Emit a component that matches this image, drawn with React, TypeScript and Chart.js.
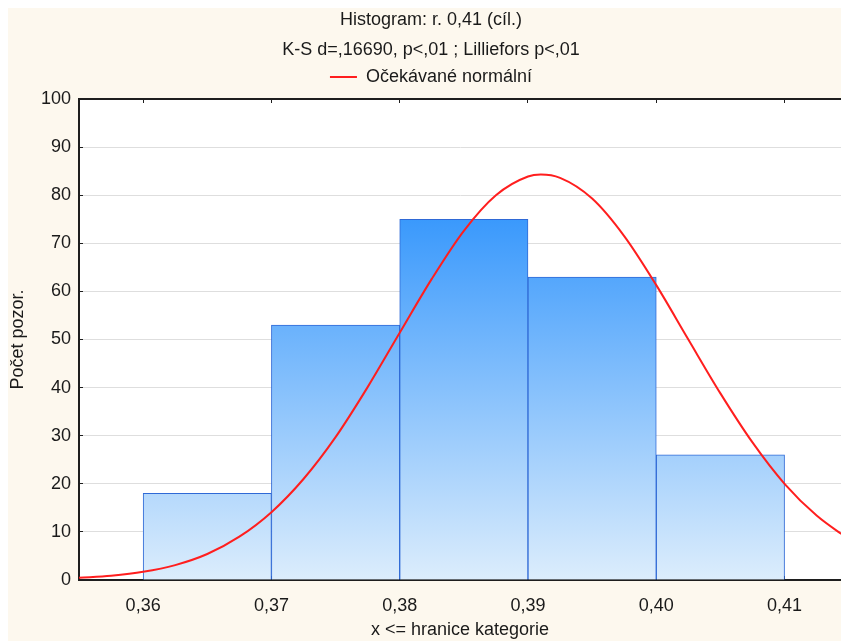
import React, { useEffect, useRef } from "react";
import { Chart, registerables } from "chart.js";

Chart.register(...registerables);

// ---- data ----
const titleLines = ["Histogram: r. 0,41 (cíl.)", "K-S d=,16690, p<,01 ; Lilliefors p<,01"];
const legendLabel = "Očekávané normální";
const xAxisTitle = "x <= hranice kategorie";
const yAxisTitle = "Počet pozor.";

const binEdges = [0.36, 0.37, 0.38, 0.39, 0.40, 0.41];
const counts = [18, 53, 75, 63, 26];

const curveX = [0.355, 0.3575, 0.36, 0.3625, 0.365, 0.3675, 0.37, 0.3725, 0.375, 0.3775, 0.38, 0.3825, 0.385, 0.3875, 0.39, 0.391, 0.3925, 0.395, 0.3975, 0.40, 0.4025, 0.405, 0.4075, 0.41, 0.4125, 0.415];
const curveY = [0.45, 0.9, 1.7, 3.1, 5.4, 9.0, 14.1, 21.0, 29.7, 40.1, 51.4, 62.6, 72.6, 80.0, 83.9, 84.3, 83.6, 79.3, 71.5, 61.3, 50.0, 38.8, 28.6, 20.0, 13.4, 8.5];

const xTicks = [0.36, 0.37, 0.38, 0.39, 0.40, 0.41];
const xMin = 0.355;
const xMax = 0.4144;
const yMin = 0;
const yMax = 100;
const yStep = 10;

const FONT = "'Liberation Sans', Arial, Helvetica, sans-serif";
const TEXT = "#1a1a1a";
const CREAM = "rgb(253,248,238)";

const bgPlugin = {
  id: "bgPlugin",
  beforeDraw(chart: any) {
    const { ctx, chartArea, width, height } = chart;
    ctx.save();
    ctx.fillStyle = CREAM;
    ctx.fillRect(0, 0, width, height);
    if (chartArea) {
      ctx.fillStyle = "#ffffff";
      ctx.fillRect(chartArea.left, chartArea.top, chartArea.right - chartArea.left, chartArea.bottom - chartArea.top);
    }
    ctx.restore();
  },
};

export default function App() {
  const ref = useRef<HTMLCanvasElement | null>(null);

  useEffect(() => {
    if (!ref.current) return;
    Chart.defaults.font.family = FONT;
    Chart.defaults.color = TEXT;

    const barData = counts.map((c, i) => ({ x: (binEdges[i] + binEdges[i + 1]) / 2, y: c }));
    const lineData = curveX.map((x, i) => ({ x, y: curveY[i] }));
    const maxCount = Math.max(...counts);

    const setTicks = (scale: any) => {
      scale.ticks = xTicks.map((v) => ({ value: v }));
    };

    const chart = new Chart(ref.current, {
      type: "bar",
      data: {
        datasets: [
          {
            type: "line",
            label: legendLabel,
            data: lineData as any,
            borderColor: "#ff1e1e",
            backgroundColor: "#ff1e1e",
            borderWidth: 2,
            pointRadius: 0,
            cubicInterpolationMode: "monotone",
            order: 0,
            xAxisID: "x",
            yAxisID: "y",
          } as any,
          {
            type: "bar",
            label: "hist",
            data: barData as any,
            backgroundColor: (c: any) => {
              const chart = c.chart;
              const area = chart.chartArea;
              if (!area) return "#8ec4fb";
              const ys = chart.scales.y;
              const g = chart.ctx.createLinearGradient(0, ys.getPixelForValue(maxCount), 0, ys.getPixelForValue(0));
              g.addColorStop(0, "rgb(58,153,252)");
              g.addColorStop(1, "rgb(220,237,252)");
              return g;
            },
            borderColor: "#2f69d6",
            borderWidth: 1,
            barPercentage: 1,
            categoryPercentage: 1,
            order: 1,
            xAxisID: "x",
            yAxisID: "y",
          } as any,
        ],
      },
      options: {
        animation: false,
        responsive: false,
        maintainAspectRatio: false,
        layout: { padding: { left: 13, right: 0, top: 0, bottom: 0 } },
        plugins: {
          title: {
            display: true,
            text: titleLines,
            color: TEXT,
            font: { size: 18, weight: "normal", family: FONT, lineHeight: 30 / 18 },
            padding: { top: -3, bottom: 0 },
          },
          legend: {
            display: true,
            labels: {
              filter: (item: any) => item.text === legendLabel,
              usePointStyle: true,
              pointStyle: "line",
              pointStyleWidth: 27,
              color: TEXT,
              font: { size: 18, family: FONT },
              padding: 3,
            },
          },
          tooltip: { enabled: false },
        },
        scales: {
          x: {
            type: "linear",
            position: "bottom",
            min: xMin,
            max: xMax,
            offset: false,
            afterBuildTicks: setTicks,
            afterFit: (s: any) => { s.height = 61; },
            grid: { display: true, offset: false, drawOnChartArea: false, drawTicks: true, tickLength: -4, tickColor: "#1e1e1e" },
            border: { display: true, color: "#1e1e1e", width: 2 },
            ticks: {
              padding: 19,
              color: TEXT,
              font: { size: 18, family: FONT },
              maxRotation: 0,
              autoSkip: false,
              callback: (v: any) => Number(v).toFixed(2).replace(".", ","),
            },
            title: {
              display: true,
              text: xAxisTitle,
              color: TEXT,
              font: { size: 18, family: FONT, lineHeight: 1.2 },
              padding: { top: 0, bottom: 0 },
            },
          },
          x2: {
            type: "linear",
            position: "top",
            min: xMin,
            max: xMax,
            offset: false,
            afterBuildTicks: setTicks,
            afterFit: (s: any) => { s.height = 3; },
            grid: { display: true, offset: false, drawOnChartArea: false, drawTicks: true, tickLength: -4, tickColor: "#1e1e1e" },
            border: { display: true, color: "#1e1e1e", width: 2 },
            ticks: { display: false },
          },
          y: {
            type: "linear",
            position: "left",
            min: yMin,
            max: yMax,
            afterFit: (s: any) => { s.width = 58; },
            ticks: {
              stepSize: yStep,
              padding: 12,
              color: TEXT,
              font: { size: 18, family: FONT },
            },
            grid: { color: "#dedede", lineWidth: 1, drawTicks: true, tickLength: -4, tickColor: "#1e1e1e" },
            border: { display: true, color: "#1e1e1e", width: 2 },
            title: {
              display: true,
              text: yAxisTitle,
              color: TEXT,
              font: { size: 18, family: FONT, lineHeight: 1.2 },
              padding: { top: -13.8, bottom: 0 },
            },
          },
        },
      } as any,
      plugins: [bgPlugin],
    });

    return () => chart.destroy();
  }, []);

  return (
    <div style={{ position: "absolute", left: 8, top: 8, width: 833, height: 633 }}>
      <canvas ref={ref} width={833} height={633} style={{ display: "block", width: 833, height: 633 }} />
    </div>
  );
}
